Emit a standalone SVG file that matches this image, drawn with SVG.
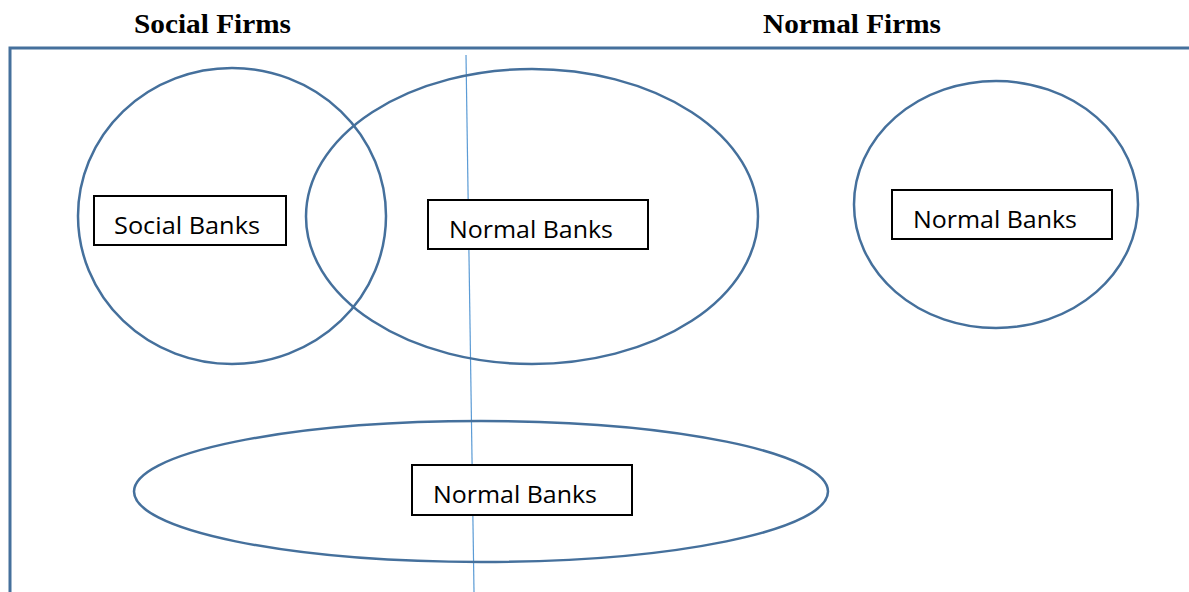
<svg xmlns="http://www.w3.org/2000/svg" width="1189" height="592" viewBox="0 0 1189 592">
<style>
.title{font-family:"Liberation Serif","Times New Roman",serif;font-weight:bold;font-size:28px;fill:#000}
.set{fill:none;stroke:#45709c;stroke-width:2.5}
.box{fill:#fff;stroke:#000;stroke-width:2}
.lbl{font-family:"Open Sans","DejaVu Sans",sans-serif;font-size:24px;fill:#000}
.frame{fill:none;stroke:#45709c;stroke-width:3}
</style>
<rect width="1189" height="592" fill="#fff"/>
<text class="title" x="134" y="33" textLength="157" lengthAdjust="spacingAndGlyphs">Social Firms</text>
<text class="title" x="763" y="33" textLength="178" lengthAdjust="spacingAndGlyphs">Normal Firms</text>
<g id="connectors">
<polyline class="frame" points="10,592 10,48 1189,48"/>
<line x1="466" y1="55" x2="474" y2="592" stroke="#5b9bd5" stroke-width="1.2"/>
</g>
<g id="social-circle"><ellipse class="set" cx="232" cy="216" rx="154" ry="148"/></g>
<g id="middle-ellipse"><ellipse class="set" cx="532" cy="216.5" rx="226" ry="147.5"/></g>
<g id="right-circle"><ellipse class="set" cx="996" cy="204.5" rx="142" ry="123.5"/></g>
<g id="bottom-ellipse"><ellipse class="set" cx="481" cy="491.5" rx="347" ry="70.5"/></g>
<g id="social-banks"><rect class="box" x="94" y="196" width="192" height="49"/><text class="lbl" x="114" y="234" textLength="146" lengthAdjust="spacingAndGlyphs">Social Banks</text></g>
<g id="normal-banks-middle"><rect class="box" x="428" y="200" width="220" height="49"/><text class="lbl" x="449" y="238" textLength="164" lengthAdjust="spacingAndGlyphs">Normal Banks</text></g>
<g id="normal-banks-right"><rect class="box" x="892" y="190" width="220" height="49"/><text class="lbl" x="913" y="228" textLength="164" lengthAdjust="spacingAndGlyphs">Normal Banks</text></g>
<g id="normal-banks-bottom"><rect class="box" x="412" y="465" width="220" height="50"/><text class="lbl" x="433" y="503" textLength="164" lengthAdjust="spacingAndGlyphs">Normal Banks</text></g>
</svg>
